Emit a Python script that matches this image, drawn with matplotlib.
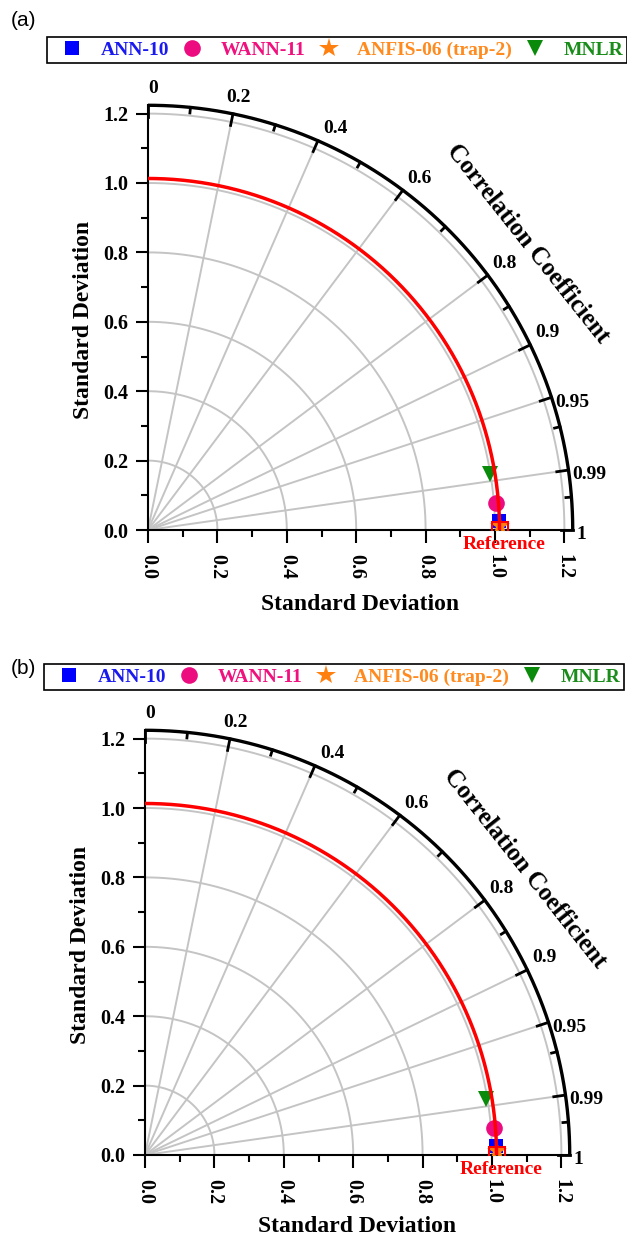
import numpy as np
import matplotlib.pyplot as plt

plt.rcParams['font.family'] = ['Liberation Serif', 'DejaVu Serif']
plt.rcParams['font.weight'] = 'bold'
plt.rcParams['axes.labelweight'] = 'bold'

W, H, DPI = 627, 1237, 100

# models shown in both Taylor diagrams
models = ['ANN-10', 'WANN-11', 'ANFIS-06 (trap-2)', 'MNLR']
marker_shapes = ['s', 'o', '*', 'v']
marker_colors = ['#0000FF', '#EC0C80', '#FF7F0F', '#0A8A0A']
text_colors = ['#1A1AF0', '#F0107E', '#FF8A1E', '#1A8C1A']
marker_sizes = [10, 12, 15, 12]

# panel (a): standard deviation and correlation of each model
ref_std_a = 1.013
std_a = [1.012, 1.007, 1.014, 0.999]
corr_a = [0.9997, 0.997, 0.99993, 0.987]

# panel (b)
ref_std_b = 1.013
std_b = [1.012, 1.009, 1.014, 0.997]
corr_b = [0.9997, 0.997, 0.99993, 0.987]

std_ticks = [0.0, 0.2, 0.4, 0.6, 0.8, 1.0, 1.2]
std_minor = [0.1, 0.3, 0.5, 0.7, 0.9, 1.1]
std_rings = [0.2, 0.4, 0.6, 0.8, 1.0, 1.2]
corr_ticks = [0.0, 0.2, 0.4, 0.6, 0.8, 0.9, 0.95, 0.99, 1.0]
corr_labels = ['0', '0.2', '0.4', '0.6', '0.8', '0.9', '0.95', '0.99', '1']
corr_minor = [0.1, 0.3, 0.5, 0.7, 0.85, 0.97, 0.997]
corr_rays = [0.2, 0.4, 0.6, 0.8, 0.9, 0.95, 0.99]
std_max = 1.224

SCALE = 347   # pixels per unit of standard deviation
LIM = 1.25
GRID = '#C4C4C4'

fig = plt.figure(figsize=(W / DPI, H / DPI), dpi=DPI)


def panel(origin, ref_std, std, corr, tag, tag_xy, legend_xy, xlab_y):
    ox, oy = origin
    ax = fig.add_axes([ox / W, 1 - oy / H, LIM * SCALE / W, LIM * SCALE / H])
    ax.set_xlim(0, LIM)
    ax.set_ylim(0, LIM)
    ax.patch.set_visible(False)
    for s in ['top', 'right']:
        ax.spines[s].set_visible(False)
    for s in ['left', 'bottom']:
        ax.spines[s].set_linewidth(1.5)
        ax.spines[s].set_bounds(0, std_max)
    ax.set_xticks(std_ticks)
    ax.set_yticks(std_ticks)
    ax.set_xticks(std_minor, minor=True)
    ax.set_yticks(std_minor, minor=True)
    ax.set_xticklabels([f'{v:.1f}' for v in std_ticks], rotation=-90)
    ax.set_yticklabels([f'{v:.1f}' for v in std_ticks])
    ax.tick_params(which='major', length=9, width=1.5, labelsize=14.5, pad=5)
    ax.tick_params(axis='x', which='major', pad=8)
    ax.tick_params(which='minor', length=5, width=1.5)

    th = np.linspace(0, np.pi / 2, 300)
    # grey std rings and correlation rays
    for r in std_rings:
        ax.plot(r * np.cos(th), r * np.sin(th), color=GRID, lw=1.4, zorder=1)
    for c in corr_rays:
        a = np.arccos(c)
        ax.plot([0, std_max * np.cos(a)], [0, std_max * np.sin(a)],
                color=GRID, lw=1.4, zorder=1)

    # outer correlation axis
    ax.plot(std_max * np.cos(th), std_max * np.sin(th), color='black', lw=2.4,
            zorder=3, clip_on=False, solid_capstyle='butt')
    for c, lab in zip(corr_ticks, corr_labels):
        a = np.arccos(c)
        r0 = std_max - 0.034
        ax.plot([r0 * np.cos(a), std_max * np.cos(a)], [r0 * np.sin(a), std_max * np.sin(a)],
                color='black', lw=2, zorder=3, clip_on=False)
        deg = np.degrees(a)
        if deg > 75:
            ha, va, off = 'center', 'bottom', (4, 6)
        elif deg > 22:
            ha, va, off = 'left', 'bottom', (3.5, 2.5)
        else:
            ha, va, off = 'left', 'center', (2.5, -3.5)
        ax.annotate(lab, (std_max * np.cos(a), std_max * np.sin(a)), xytext=off,
                    textcoords='offset points', ha=ha, va=va, fontsize=14,
                    annotation_clip=False)
    for c in corr_minor:
        a = np.arccos(c)
        r0 = std_max - 0.016
        ax.plot([r0 * np.cos(a), std_max * np.cos(a)], [r0 * np.sin(a), std_max * np.sin(a)],
                color='black', lw=2, zorder=3, clip_on=False)

    ax.text(1.372 * np.cos(np.radians(37)), 1.372 * np.sin(np.radians(37)),
            'Correlation Coefficient', rotation=-51.5, ha='center', va='center',
            rotation_mode='anchor', fontsize=18)

    # model points
    handles = []
    for s, c, m, col, ms in zip(std, corr, marker_shapes, marker_colors, marker_sizes):
        a = np.arccos(c)
        h, = ax.plot(s * np.cos(a), s * np.sin(a), m, color=col, ms=ms,
                     markeredgewidth=0, zorder=4, linestyle='none')
        handles.append(h)

    # reference arc and point
    ax.plot(ref_std * np.cos(th), ref_std * np.sin(th), color='red', lw=2.5, zorder=5)
    ax.plot(ref_std, 0, 's', ms=12, mfc='none', mec='red', mew=1.5, zorder=6)
    ax.annotate('Reference', (ref_std, 0), xytext=(3, -4), textcoords='offset points',
                ha='center', va='top', color='red', fontsize=14, annotation_clip=False)

    ax.set_xlabel('Standard Deviation', fontsize=17)
    ax.set_ylabel('Standard Deviation', fontsize=17)
    ax.xaxis.set_label_coords(0.489, xlab_y)
    ax.yaxis.set_label_coords(-0.125, 0.484)

    fig.text(tag_xy[0] / W, 1 - tag_xy[1] / H, tag, family='Liberation Sans',
             weight='normal', fontsize=15, ha='center', va='center')
    leg = fig.legend(handles, models, loc='center',
                     bbox_to_anchor=(legend_xy[0] / W, 1 - legend_xy[1] / H),
                     ncol=4, frameon=True, fancybox=False, edgecolor='black',
                     framealpha=1, labelcolor=text_colors,
                     prop={'size': 14, 'weight': 'bold'}, handlelength=2.2,
                     handletextpad=0.36, columnspacing=0.1, borderpad=0.2)
    leg.get_frame().set_linewidth(1.2)
    return ax


panel((148, 530), ref_std_a, std_a, corr_a, '(a)', (23, 21), (337, 50), -0.147)
panel((145, 1155), ref_std_b, std_b, corr_b, '(b)', (23, 668), (334, 677), -0.140)

fig.savefig('out.png', dpi=DPI)
